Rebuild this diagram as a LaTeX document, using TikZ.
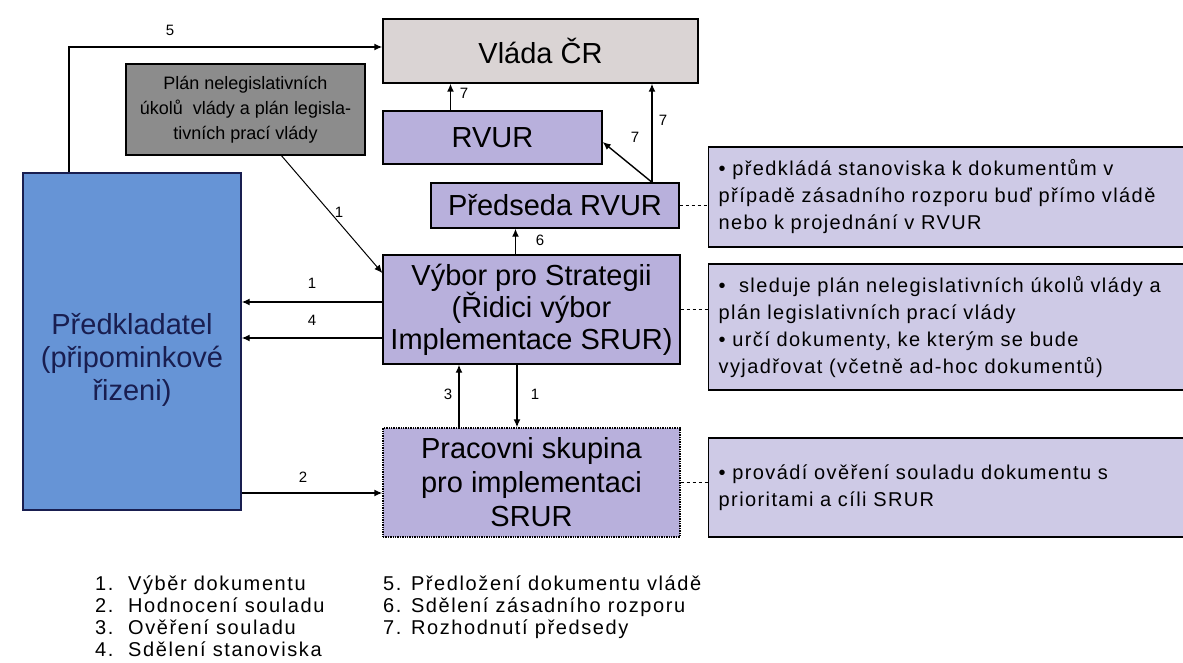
\documentclass[tikz,border=0pt]{standalone}
\usepackage{fontspec}
\setmainfont{Liberation Sans}
\newfontfamily\notefont[LetterSpace=7]{Liberation Sans}
\newfontfamily\legfont[LetterSpace=8]{Liberation Sans}
\usepackage{xcolor}
\usetikzlibrary{arrows.meta, positioning, calc}

\definecolor{predkblue}{RGB}{102,148,214}
\definecolor{navytext}{RGB}{25,30,80}
\definecolor{boxlila}{RGB}{184,176,220}
\definecolor{notelila}{RGB}{206,202,230}
\definecolor{vladagray}{RGB}{218,212,212}
\definecolor{plangray}{RGB}{140,140,140}

\tikzset{
  box/.style={draw=black, line width=1.4pt, fill=boxlila, inner sep=0pt, align=center,
    font=\fontsize{29}{32}\selectfont},
  notebox/.style={draw=black, line width=1.4pt, fill=notelila, anchor=west, inner xsep=10pt,
    inner ysep=0pt, text width=467pt, align=left, font=\notefont\fontsize{20}{27}\selectfont},
  arr/.style={->, line width=1.4pt},
  link/.style={dashed, line width=1pt},
  lbl/.style={font=\fontsize{15}{15}\selectfont, inner sep=0pt},
}

\begin{document}
\begin{tikzpicture}[x=1pt, y=-1pt, >={Latex[length=8pt,width=7pt]}]
\useasboundingbox (0,0) rectangle (1183,663);

% --- main boxes ---
\node[box, fill=vladagray, minimum width=315pt, minimum height=64pt] (vlada) at (540.5,51) {Vláda ČR};
\node[box, fill=plangray, minimum width=239pt, minimum height=91pt,
  font=\fontsize{18}{25}\selectfont] (plan) at (245.5,109.5)
  {Plán nelegislativních\\úkolů\ \ vlády a plán legisla-\\tivních prací vlády};
\node[box, minimum width=219pt, minimum height=53pt] (rvur) at (492.5,137.5) {RVUR};
\node[box, minimum width=248pt, minimum height=45pt] (predseda) at (555,205.5) {Předseda RVUR};
\node[box, minimum width=297pt, minimum height=109pt] (vybor) at (531.5,309.5)
  {Výbor pro Strategii\\(Řidici výbor\\Implementace SRUR)};
\node[box, densely dotted, minimum width=297pt, minimum height=109pt,
  font=\fontsize{29}{34}\selectfont] (prac) at (531.5,482.5)
  {Pracovni skupina\\pro implementaci\\SRUR};

% Predkladatel (text sits below the centre)
\node[box, draw=navytext, fill=predkblue, minimum width=218pt, minimum height=337pt] (predk) at (132,341.5) {};
\node[align=center, text=navytext, font=\fontsize{29}{33}\selectfont] (predktxt) at (132,360)
  {Předkladatel\\(připominkové\\řizeni)};

% --- notes on the right ---
\node[notebox, minimum height=100pt] (note1) at (708,197)
  {• předkládá stanoviska k dokumentům v\\případě zásadního rozporu buď přímo vládě\\nebo k projednání v RVUR};
\node[notebox, minimum height=126pt] (note2) at (708,327)
  {•\ \ sleduje plán nelegislativních úkolů vlády a\\plán legislativních prací vlády\\• určí dokumenty, ke kterým se bude\\vyjadřovat (včetně ad-hoc dokumentů)};
\node[notebox, minimum height=99pt] (note3) at (708,487.5)
  {• provádí ověření souladu dokumentu s\\prioritami a cíli SRUR};

\draw[link] (predseda.east) -- (predseda.east -| note1.west);
\draw[link] (vybor.east) -- (vybor.east -| note2.west);
\draw[link] (prac.east) -- (prac.east -| note3.west);

% --- arrows ---
\draw[arr] ([xshift=-63pt]predk.north) |- ([yshift=4pt]vlada.west);
\draw[arr] ([xshift=-42pt]rvur.north) -- ([xshift=-42pt]rvur.north |- vlada.south);
\coordinate (p7) at ([xshift=97pt]predseda.north);
\draw[arr] (p7) -- (p7 |- vlada.south);
\draw[arr] (p7) -- ([yshift=-4.5pt]rvur.east);
\draw[arr] ([xshift=-16pt]vybor.north) -- ([xshift=-16pt]vybor.north |- predseda.south);
\draw[arr, line width=1pt] ([xshift=36pt]plan.south) -- ([yshift=36.5pt]vybor.west);
\draw[arr] ([yshift=7.5pt]vybor.west) -- ([yshift=7.5pt]vybor.west -| predk.east);
\draw[arr] ([yshift=-28.5pt]vybor.west) -- ([yshift=-28.5pt]vybor.west -| predk.east);
\draw[arr] ([xshift=-72.5pt]prac.north) -- ([xshift=-72.5pt]prac.north |- vybor.south);
\draw[arr] ([xshift=-14.5pt]vybor.south) -- ([xshift=-14.5pt]vybor.south |- prac.north);
\draw[arr] ([yshift=-10.5pt]prac.west -| predk.east) -- ([yshift=-10.5pt]prac.west);

% numbers on the arrows
\node[lbl] (n5) at (170,30) {5};
\node[lbl] (n7a) at (464,93) {7};
\node[lbl] (n7b) at (663,120) {7};
\node[lbl] (n7c) at (635,137) {7};
\node[lbl] (n1a) at (339,212) {1};
\node[lbl] (n6) at (540,240) {6};
\node[lbl] (n1b) at (312,283) {1};
\node[lbl] (n4) at (312,320) {4};
\node[lbl] (n3) at (448,394) {3};
\node[lbl] (n1c) at (535,394) {1};
\node[lbl] (n2) at (303,477) {2};

% --- legend ---
\node[anchor=base west, inner sep=0pt, font=\legfont\fontsize{20}{22}\selectfont] (legA) at (95,590)
  {\begin{tabular}[t]{@{}p{33pt}@{}l@{}}
   1. & Výběr dokumentu\\ 2. & Hodnocení souladu\\ 3. & Ověření souladu\\ 4. & Sdělení stanoviska
   \end{tabular}};
\node[anchor=base west, inner sep=0pt, font=\legfont\fontsize{20}{22}\selectfont] (legB) at (383,590)
  {\begin{tabular}[t]{@{}l@{}}
   5. Předložení dokumentu vládě\\ 6. Sdělení zásadního rozporu\\ 7. Rozhodnutí předsedy
   \end{tabular}};

\end{tikzpicture}
\end{document}
